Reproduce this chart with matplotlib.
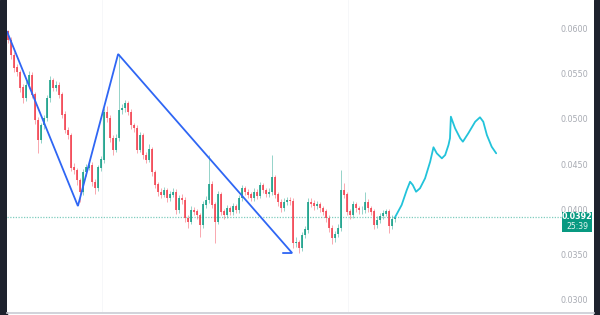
"""
Recreate a TradingView-style candlestick chart with a blue zigzag and
a cyan projected path, saved as out.png (600x315).
"""

import numpy as np
import matplotlib
matplotlib.use("Agg")
import matplotlib.pyplot as plt
import matplotlib.transforms as mtrans
from matplotlib.patches import Rectangle


# ---------------------------------------------------------------------------
# Data
# ---------------------------------------------------------------------------

FIRST_OPEN = 0.0598

CLOSES = [
    0.0589, 0.0572, 0.0558, 0.0553, 0.0536, 0.0524, 0.0539, 0.0550, 0.0528, 0.0500,
    0.0478, 0.0494, 0.0502, 0.0524, 0.0544, 0.0536, 0.0539, 0.0528, 0.0506, 0.0489,
    0.0483, 0.0447, 0.0444, 0.0433, 0.0420, 0.0442, 0.0447, 0.0450, 0.0431, 0.0424,
    0.0447, 0.0456, 0.0509, 0.0502, 0.0480, 0.0467, 0.0480, 0.0511, 0.0513, 0.0518,
    0.0509, 0.0494, 0.0491, 0.0467, 0.0483, 0.0461, 0.0456, 0.0467, 0.0442, 0.0428,
    0.0420, 0.0417, 0.0422, 0.0413, 0.0417, 0.0420, 0.0400, 0.0413, 0.0411, 0.0391,
    0.0387, 0.0400, 0.0398, 0.0394, 0.0383, 0.0406, 0.0411, 0.0428, 0.0406, 0.0387,
    0.0417, 0.0398, 0.0394, 0.0402, 0.0398, 0.0404, 0.0400, 0.0413, 0.0424, 0.0420,
    0.0417, 0.0413, 0.0420, 0.0416, 0.0427, 0.0422, 0.0418, 0.0420, 0.0436, 0.0417,
    0.0409, 0.0402, 0.0409, 0.0411, 0.0410, 0.0363, 0.0364, 0.0358, 0.0372, 0.0378,
    0.0409, 0.0407, 0.0404, 0.0406, 0.0402, 0.0398, 0.0391, 0.0380, 0.0369, 0.0373,
    0.0380, 0.0422, 0.0417, 0.0398, 0.0394, 0.0406, 0.0402, 0.0400, 0.0400, 0.0409,
    0.0402, 0.0398, 0.0383, 0.0389, 0.0393, 0.0396, 0.0398, 0.0382, 0.0390, 0.0392,
]

HIGHS = [
    0.0600, 0.0592, 0.0575, 0.0562, 0.0556, 0.0540, 0.0543, 0.0554, 0.0553, 0.0531,
    0.0503, 0.0497, 0.0506, 0.0528, 0.0549, 0.0547, 0.0543, 0.0542, 0.0531, 0.0510,
    0.0492, 0.0486, 0.0452, 0.0447, 0.0436, 0.0446, 0.0451, 0.0456, 0.0453, 0.0434,
    0.0450, 0.0460, 0.0513, 0.0516, 0.0505, 0.0483, 0.0484, 0.0573, 0.0518, 0.0522,
    0.0521, 0.0512, 0.0497, 0.0494, 0.0487, 0.0486, 0.0464, 0.0473, 0.0470, 0.0445,
    0.0431, 0.0424, 0.0426, 0.0425, 0.0421, 0.0424, 0.0423, 0.0417, 0.0418, 0.0414,
    0.0394, 0.0404, 0.0403, 0.0401, 0.0397, 0.0410, 0.0416, 0.0461, 0.0432, 0.0409,
    0.0421, 0.0420, 0.0401, 0.0406, 0.0405, 0.0408, 0.0407, 0.0417, 0.0428, 0.0427,
    0.0423, 0.0420, 0.0424, 0.0423, 0.0431, 0.0430, 0.0425, 0.0424, 0.0461, 0.0439,
    0.0420, 0.0412, 0.0413, 0.0415, 0.0414, 0.0413, 0.0370, 0.0367, 0.0376, 0.0382,
    0.0413, 0.0413, 0.0411, 0.0410, 0.0409, 0.0405, 0.0401, 0.0394, 0.0383, 0.0377,
    0.0384, 0.0444, 0.0430, 0.0420, 0.0401, 0.0410, 0.0409, 0.0405, 0.0404, 0.0420,
    0.0412, 0.0405, 0.0401, 0.0393, 0.0397, 0.0400, 0.0401, 0.0401, 0.0394, 0.0395,
]

LOWS = [
    0.0586, 0.0568, 0.0553, 0.0549, 0.0531, 0.0519, 0.0521, 0.0535, 0.0524, 0.0495,
    0.0463, 0.0474, 0.0490, 0.0499, 0.0520, 0.0532, 0.0532, 0.0524, 0.0502, 0.0485,
    0.0479, 0.0443, 0.0440, 0.0428, 0.0409, 0.0417, 0.0438, 0.0444, 0.0427, 0.0418,
    0.0421, 0.0443, 0.0452, 0.0498, 0.0476, 0.0461, 0.0464, 0.0477, 0.0507, 0.0509,
    0.0505, 0.0490, 0.0487, 0.0463, 0.0464, 0.0457, 0.0452, 0.0453, 0.0438, 0.0424,
    0.0416, 0.0413, 0.0414, 0.0409, 0.0410, 0.0414, 0.0396, 0.0397, 0.0407, 0.0387,
    0.0380, 0.0384, 0.0394, 0.0390, 0.0370, 0.0380, 0.0402, 0.0408, 0.0402, 0.0363,
    0.0384, 0.0394, 0.0390, 0.0391, 0.0395, 0.0395, 0.0397, 0.0397, 0.0410, 0.0417,
    0.0413, 0.0410, 0.0410, 0.0412, 0.0413, 0.0419, 0.0415, 0.0415, 0.0417, 0.0413,
    0.0405, 0.0398, 0.0399, 0.0406, 0.0406, 0.0358, 0.0359, 0.0352, 0.0355, 0.0369,
    0.0375, 0.0403, 0.0400, 0.0401, 0.0398, 0.0394, 0.0387, 0.0376, 0.0362, 0.0365,
    0.0370, 0.0377, 0.0413, 0.0394, 0.0390, 0.0391, 0.0398, 0.0396, 0.0396, 0.0397,
    0.0398, 0.0394, 0.0379, 0.0380, 0.0386, 0.0390, 0.0393, 0.0375, 0.0379, 0.0387,
]

# zigzag drawn over the candles (bar index, price)
ZIGZAG_BARS   = [-0.3, 23.3, 36.7, 94.7, 91.7]
ZIGZAG_PRICES = [0.0598, 0.04044, 0.05733, 0.03522, 0.03522]

# projected path to the right of the last candle
PROJ_BARS = [129.0, 131.2, 132.9, 134.0, 134.9, 136.0, 137.3, 139.0, 140.7, 141.8,
             142.9, 144.6, 145.7, 146.8, 147.3, 147.6, 149.0, 150.7, 151.6, 153.4,
             155.7, 157.3, 158.4, 159.6, 161.2, 162.7]
PROJ_PRICES = [0.0392, 0.04056, 0.04222, 0.04314, 0.04278, 0.04203, 0.04241, 0.04352,
               0.04537, 0.04697, 0.04630, 0.04574, 0.04611, 0.04722, 0.04797, 0.05037,
               0.04908, 0.04797, 0.04759, 0.04852, 0.04981, 0.05030, 0.04981, 0.04833,
               0.04703, 0.04630]

PRICE_TICKS = [0.0300, 0.0350, 0.0400, 0.0450, 0.0500, 0.0550, 0.0600]
LAST_PRICE  = 0.0392
COUNTDOWN   = "25:39"

# ---------------------------------------------------------------------------
# Style
# ---------------------------------------------------------------------------

UP_COLOR   = "#089981"
DOWN_COLOR = "#f23645"
ZIG_COLOR  = "#2f66f4"
PROJ_COLOR = "#22c3da"
DARK       = "#1e222d"
AXIS_TEXT  = "#a8abb3"

W, H = 600, 315


def px_x(p):
    return p / W


def main():
    fig = plt.figure(figsize=(W / 100, H / 100), dpi=100)
    fig.patch.set_facecolor("white")

    # dark frame strips left/right
    fig.add_artist(Rectangle((0, 0), px_x(7), 1, transform=fig.transFigure,
                             color=DARK, zorder=0))
    fig.add_artist(Rectangle((px_x(594), 0), px_x(6), 1, transform=fig.transFigure,
                             color=DARK, zorder=0))

    ax = fig.add_axes([px_x(7), 3 / H, 587 / W, 312 / H])
    ax.set_facecolor("white")
    ax.set_xlim(-1 / 3, 195.3)
    ax.set_ylim(0.028667, 0.063333)
    for s in ax.spines.values():
        s.set_visible(False)
    ax.set_xticks([])
    ax.set_yticks([])

    # faint vertical grid
    for gx in [31.3, 113.3]:
        ax.axvline(gx, color="#f5f6f8", lw=0.6, zorder=0)

    closes = np.array(CLOSES)
    opens = np.r_[FIRST_OPEN, closes[:-1]]
    highs = np.array(HIGHS)
    lows = np.array(LOWS)
    bars = np.arange(len(closes))
    colors = np.where(closes >= opens, UP_COLOR, DOWN_COLOR)

    ax.vlines(bars, lows, highs, colors=colors, lw=0.6, alpha=0.5, zorder=2)
    ax.vlines(bars, np.minimum(opens, closes), np.maximum(opens, closes) + 0.00004,
              colors=colors, lw=1.3, alpha=0.85, zorder=3)

    # last price dotted line
    ax.plot([-1 / 3, 184.3], [LAST_PRICE, LAST_PRICE], color="#7fcdbf",
            lw=0.9, ls=(0, (1, 1.2)), zorder=1)

    # zigzag + projection
    ax.plot(ZIGZAG_BARS, ZIGZAG_PRICES, color=ZIG_COLOR, lw=1.3,
            solid_joinstyle="miter", zorder=4)
    ax.plot(PROJ_BARS, PROJ_PRICES, color=PROJ_COLOR, lw=1.3,
            solid_joinstyle="round", solid_capstyle="round", zorder=4)

    # price scale labels
    trans = mtrans.blended_transform_factory(ax.transAxes, ax.transData)
    for p in PRICE_TICKS:
        ax.text(0.9898, p, f"{p:.4f}", transform=trans, ha="right", va="center",
                fontsize=5.8, color=AXIS_TEXT, family="DejaVu Sans")

    # last price badge
    ax.add_patch(Rectangle((0.9454, 0.03756), 0.0512, 0.00222, transform=trans,
                           facecolor=UP_COLOR, edgecolor="none", zorder=6))
    ax.text(0.9710, 0.03925, f"{LAST_PRICE:.4f}", transform=trans, ha="center",
            va="center", fontsize=5.8, color="white", fontweight="semibold", zorder=7)
    ax.text(0.9710, 0.03812, COUNTDOWN, transform=trans, ha="center",
            va="center", fontsize=5.6, color="#e6f5f1", zorder=7)

    # bottom border of the pane
    fig.add_artist(plt.Line2D([px_x(7), px_x(594)], [2 / H, 2 / H],
                              transform=fig.transFigure, color="#c9ccd4", lw=1.2))

    fig.savefig("out.png", dpi=100, facecolor=fig.get_facecolor())
    plt.close(fig)


if __name__ == "__main__":
    main()
